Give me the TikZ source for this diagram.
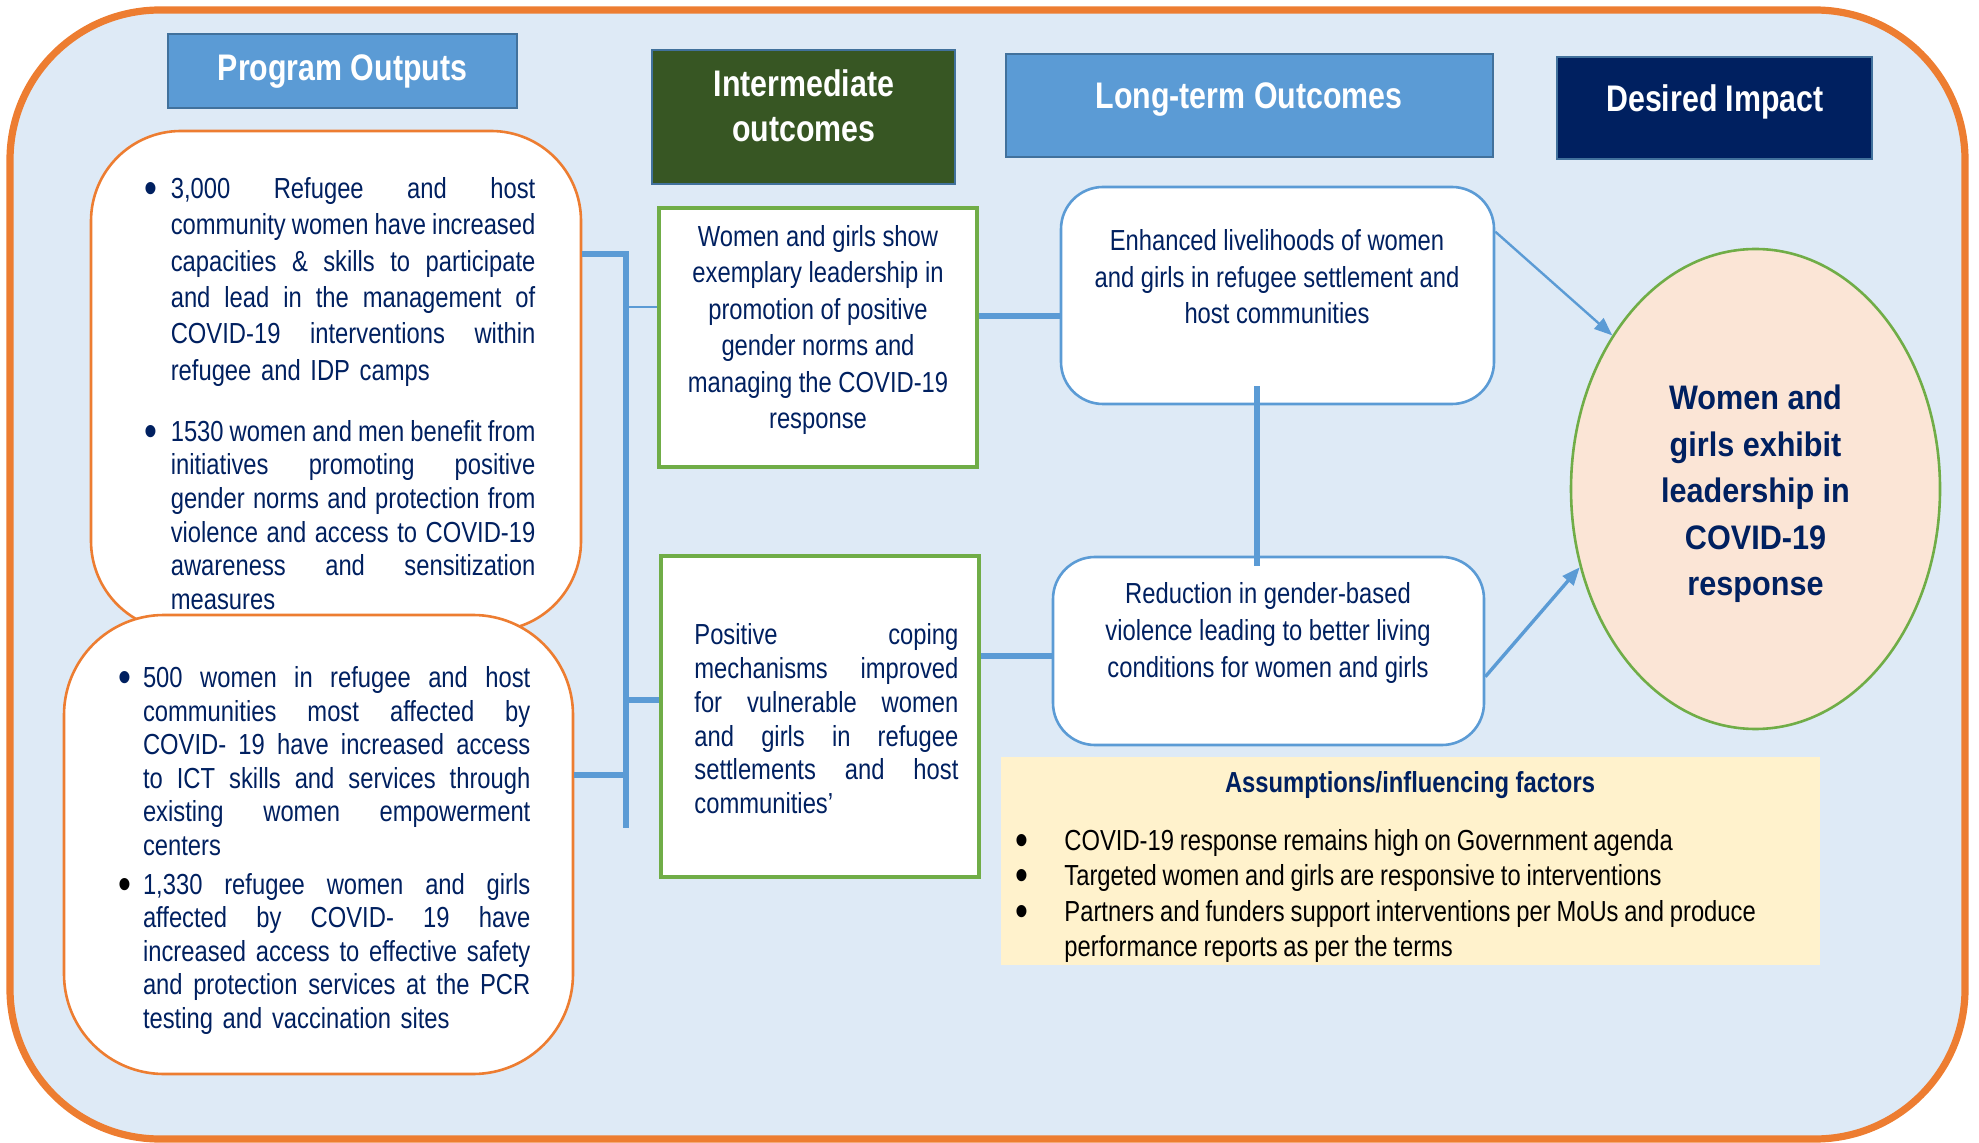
\documentclass[tikz,border=0pt]{standalone}
\usepackage{fontspec}
\usepackage{graphicx}
\setmainfont{Liberation Sans}[FakeStretch=0.82]
\newfontfamily\widefont{Liberation Sans}[FakeStretch=0.9]
\usetikzlibrary{arrows.meta,shapes.geometric,calc}
\definecolor{bgblue}{HTML}{DEEAF6}
\definecolor{orangeb}{HTML}{ED7D31}
\definecolor{hblue}{HTML}{5B9BD5}
\definecolor{hborder}{HTML}{41719C}
\definecolor{dgreen}{HTML}{375623}
\definecolor{navy}{HTML}{002060}
\definecolor{greenb}{HTML}{70AD47}
\definecolor{peach}{HTML}{FBE5D6}
\definecolor{cream}{HTML}{FFF2CC}
\definecolor{connc}{HTML}{5B9BD5}
\newcommand\jl[1]{\leavevmode{\spaceskip=0.228em plus 1fil minus 0.09em\makebox[\hsize][s]{#1}}}
\newcommand\bul{\raisebox{-0.17em}{\scalebox{1.55}{\textbullet}}}
\begin{document}
\begin{tikzpicture}[x=0.5pt,y=-0.5pt,
 hdr/.style={draw=hborder, line width=1.2pt, inner sep=0},
 htxt/.style={inner sep=0, yshift=-2.3pt, text=white, align=center, font=\fontsize{18.5}{22.5}\selectfont\bfseries},
 obox/.style={draw=orangeb, line width=1.3pt, fill=white, inner sep=0},
 gbox/.style={draw=greenb, line width=1.6pt, fill=white, inner sep=0},
 bbox/.style={draw=hblue, line width=1.3pt, fill=white, rounded corners=21pt, inner sep=0},
 txt/.style={inner sep=0, yshift=-2.2pt, text=navy, font=\fontsize{14.5}{#1}\selectfont, execute at begin node=\noindent\strut, execute at end node=\strut},
 txt/.default=18.2,
 thickconn/.style={draw=connc, line width=3.4pt},
 thinconn/.style={draw=connc, line width=0.7pt},
 arrowconn/.style={draw=connc, -{Triangle[length=9pt,width=7pt]}, fill=connc},
]
\useasboundingbox (0,0) rectangle (1979,1143);
\draw[orangeb, line width=3.6pt, fill=bgblue, rounded corners=75pt] (10,10) rectangle (1965,1139);

% headers
\node[hdr, fill=hblue, minimum width=174.5pt, minimum height=37pt] (po) at (342.5,71) {};
\node[htxt] (pot) at (342.5,67) {Program Outputs};
\node[hdr, fill=dgreen, minimum width=151.5pt, minimum height=67pt] (io) at (803.5,117) {};
\node[htxt, execute at begin node=\strut, execute at end node=\strut] (iot) at (804,107.5) {Intermediate\\outcomes};
\node[hdr, fill=hblue, minimum width=243.5pt, minimum height=51.5pt] (lt) at (1249.5,105.5) {};
\node[htxt] (ltt) at (1249,95) {Long-term Outcomes};
\node[hdr, fill=navy, minimum width=157.5pt, minimum height=51pt] (di) at (1714.5,108) {};
\node[htxt] (dit) at (1715,97) {Desired Impact};

% left boxes
\node[obox, rounded corners=45pt, minimum width=245pt, minimum height=250pt] (b1) at (336,381) {};
\node[txt=18.2, text width=182.3pt, align=left, anchor=west] (b1p1) at (170.4,277.7)
 {\jl{\llap{\bul\hspace{6.6pt}}3,000 Refugee and host}\\
  \jl{community women have increased}\\
  \jl{capacities \& skills to participate}\\
  \jl{and lead in the management of}\\
  \jl{COVID-19 interventions within}\\
  \leavevmode refugee and IDP camps};
\node[txt=16.8, text width=182.3pt, align=left, anchor=west] (b1p2) at (170.4,514.2)
 {\jl{\llap{\bul\hspace{6.6pt}}1530 women and men benefit from}\\
  \jl{initiatives promoting positive}\\
  \jl{gender norms and protection from}\\
  \jl{violence and access to COVID-19}\\
  \jl{awareness and sensitization}\\
  \leavevmode measures};
\node[obox, rounded corners=50pt, minimum width=254.5pt, minimum height=229.5pt] (b2) at (318.5,844.5) {};
\node[txt=16.8, text width=193.7pt, align=left, anchor=west] (b2p1) at (142.6,760.3)
 {\jl{\llap{\bul\hspace{5.9pt}}500 women in refugee and host}\\
  \jl{communities most affected by}\\
  \jl{COVID- 19 have increased access}\\
  \jl{to ICT skills and services through}\\
  \jl{existing women empowerment}\\
  \leavevmode centers};
\node[txt=16.7, text width=193.7pt, align=left, anchor=west] (b2p2) at (142.6,950.3)
 {\jl{\llap{\textcolor{black}{\bul}\hspace{5.9pt}}1,330 refugee women and girls}\\
  \jl{affected by COVID- 19 have}\\
  \jl{increased access to effective safety}\\
  \jl{and protection services at the PCR}\\
  \leavevmode testing and vaccination sites};

% intermediate boxes
\node[gbox, minimum width=159pt, minimum height=129.5pt] (A) at (818,337.5) {};
\node[txt=18.2, align=center] (At) at (818,328)
 {Women and girls show\\exemplary leadership in\\promotion of positive\\gender norms and\\managing the COVID-19\\response};
\node[gbox, minimum width=159pt, minimum height=160.5pt] (B) at (820,716.5) {};
\node[txt=16.9, text width=132pt, align=left, anchor=west] (Bt) at (694,718)
 {\jl{Positive coping}\\
  \jl{mechanisms improved}\\
  \jl{for vulnerable women}\\
  \jl{and girls in refugee}\\
  \jl{settlements and host}\\
  \leavevmode communities’};

% long-term boxes
\node[bbox, minimum width=216.5pt, minimum height=108.5pt] (C) at (1277.5,295.5) {};
\node[txt=18.3, align=center] (Ct) at (1277,277.6)
 {Enhanced livelihoods of women\\and girls in refugee settlement and\\host communities};
\node[bbox, minimum width=215.5pt, minimum height=94pt] (D) at (1268.5,651) {};
\node[txt=18.3, align=center] (Dt) at (1268,631)
 {Reduction in gender-based\\violence leading to better living\\conditions for women and girls};

% impact
\node[ellipse, draw=greenb, fill=peach, line width=1.3pt, minimum width=184.5pt, minimum height=240pt, inner sep=0] (imp) at (1755.5,489) {};
\node[inner sep=0, text=navy, align=center, font=\widefont\bfseries\fontsize{17}{23.2}\selectfont] (impt) at (1755.5,494)
 {Women and\\girls exhibit\\leadership in\\COVID-19\\response};

% assumptions
\node[fill=cream, minimum width=409.5pt, minimum height=104pt, inner sep=0] (as) at (1410.5,861) {};
\node[inner sep=0, text=navy, font=\fontsize{14.5}{17}\selectfont\bfseries] (ast) at (1410,785) {Assumptions/influencing factors};
\node[txt=17.7, text=black, text width=370pt, align=left, anchor=west] (asl) at (1064,892.2)
 {\spaceskip=0.2em plus 0.05em minus 0.02em
  \leavevmode\llap{\bul\hspace{18pt}}COVID-19 response remains high on Government agenda\\
  \leavevmode\llap{\bul\hspace{18pt}}Targeted women and girls are responsive to interventions\\
  \leavevmode\llap{\bul\hspace{18pt}}Partners and funders support interventions per MoUs and produce\\
  \leavevmode performance reports as per the terms};

% connectors
\coordinate (jt) at (626,254);
\coordinate (jb) at (626,828);
\coordinate (yA) at (0,307);
\coordinate (yB) at (0,700);
\coordinate (y2) at (0,775);
\coordinate (yAC) at (0,316);
\coordinate (yBD) at (0,656);
\coordinate (vx) at (1257,0);
\draw[thickconn] (b1.east |- jt) -- (jt) -- (jb);
\draw[thinconn] (jt |- yA) -- (A.west |- yA);
\draw[thickconn] (jt |- yB) -- (B.west |- yB);
\draw[thickconn] (b2.east |- y2) -- (jt |- y2);
\draw[thickconn] (A.east |- yAC) -- (C.west |- yAC);
\draw[thickconn] (B.east |- yBD) -- (D.west |- yBD);
\draw[thickconn] ($(C.south -| vx)+(0,-19)$) -- ($(D.north -| vx)+(0,10)$);
\draw[arrowconn, line width=1.2pt] ($(C.north east)+(0,46)$) -- (imp.133);
\draw[arrowconn, line width=1.7pt] ($(D.north east)+(0,121)$) -- (imp.204);
\end{tikzpicture}
\end{document}
